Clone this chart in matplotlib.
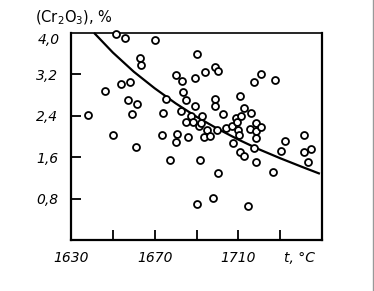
import numpy as np
import matplotlib
matplotlib.use("Agg")
from matplotlib import pyplot as plt
from matplotlib.lines import Line2D

plt.rcParams['mathtext.default'] = 'regular'

# measured points: temperature (C) and Cr2O3 content (%)
temp = [1638.1, 1646.3, 1650.1, 1651.3, 1655.9, 1653.7, 1658.3, 1657.4, 1661.7, 1659.0,
        1660.9, 1662.9, 1663.5, 1669.9, 1673.8, 1675.4, 1673.5, 1677.5, 1680.4, 1683.1,
        1680.6, 1680.4, 1683.6, 1684.8, 1682.8, 1684.8, 1686.0, 1687.2, 1689.1, 1689.4,
        1690.2, 1688.5, 1691.0, 1692.8, 1692.2, 1693.9, 1691.7, 1690.2, 1693.8, 1695.1,
        1696.5, 1698.0, 1698.8, 1700.2, 1698.6, 1698.6, 1700.0, 1700.5, 1702.6, 1704.2,
        1706.9, 1707.6, 1709.0, 1709.5, 1710.0, 1710.4, 1710.7, 1711.3, 1712.6, 1710.9,
        1712.6, 1714.7, 1716.0, 1715.5, 1717.3, 1720.6, 1717.6, 1718.4, 1718.2, 1718.6,
        1718.6, 1720.6, 1727.7, 1726.6, 1730.3, 1732.1, 1741.6, 1741.6, 1744.5, 1743.4]
cr2o3 = [2.41, 2.88, 2.03, 3.97, 3.90, 3.01, 3.05, 2.70, 2.63, 2.43,
         1.80, 3.51, 3.38, 3.86, 2.45, 2.72, 2.03, 1.55, 3.18, 3.08,
         2.04, 1.90, 2.85, 2.70, 2.49, 2.27, 1.99, 2.40, 2.59, 3.12,
         3.60, 2.28, 2.21, 2.39, 2.26, 3.24, 1.54, 0.70, 1.99, 2.12,
         2.00, 0.82, 3.35, 3.27, 2.72, 2.59, 2.12, 1.29, 2.43, 2.17,
         2.21, 1.88, 2.35, 2.28, 2.13, 2.02, 2.79, 2.40, 2.55, 1.70,
         1.62, 0.66, 2.45, 2.14, 3.05, 3.21, 1.78, 1.51, 1.98, 2.10,
         2.26, 2.19, 3.10, 1.32, 1.72, 1.91, 2.02, 1.70, 1.75, 1.51]

# fitted curve
curve_t = [1641, 1650, 1660, 1670, 1680, 1690, 1700, 1710, 1720, 1730, 1740, 1749]
curve_c = [4.0, 3.62, 3.25, 2.93, 2.64, 2.38, 2.15, 1.94, 1.75, 1.58, 1.42, 1.28]

xticks = [1650, 1670, 1690, 1710, 1730]
xlabels = {1630: '1630', 1670: '1670', 1710: '1710'}
yticks = [0.8, 1.6, 2.4, 3.2]
ylabels = ['0,8', '1,6', '2,4', '3,2']

fig = plt.figure(figsize=(3.74, 2.91), dpi=100)
ax = fig.add_axes([0.190, 0.175, 0.671, 0.712])

ax.plot(curve_t, curve_c, color='black', lw=1.6, solid_capstyle='butt', clip_on=False)
ax.plot(temp, cr2o3, 'o', ms=5, mfc='white', mec='black', mew=1.3, clip_on=False, zorder=3)

ax.set_xlim(1630, 1750)
ax.set_ylim(0, 4.0)

ax.set_xticks(xticks)
ax.set_xticklabels([])
ax.set_yticks(yticks)
ax.set_yticklabels(ylabels, fontsize=10, style='italic')
ax.tick_params(axis='both', direction='in', length=7, width=1.3)
ax.tick_params(axis='y', pad=9)

for s in ['left', 'bottom', 'right']:
    ax.spines[s].set_linewidth(1.6)
ax.spines['top'].set_linewidth(1.2)

# x labels placed by hand since ticks and labels differ
for v, lab in xlabels.items():
    ax.text(v, -0.22, lab, ha='center', va='top', fontsize=10, style='italic', clip_on=False)
ax.text(1739, -0.22, 't, °C', ha='center', va='top', fontsize=10, style='italic', clip_on=False)
ax.text(1624.5, 3.87, '4,0', ha='right', va='center', fontsize=10, style='italic')
fig.text(0.094, 0.94, r'(Cr$_2$O$_3$), %', fontsize=10.5, ha='left', va='center')

fig.add_artist(Line2D([0.997, 0.997], [0, 1], color='#999999', lw=1))

fig.savefig('out.png', dpi=100)
